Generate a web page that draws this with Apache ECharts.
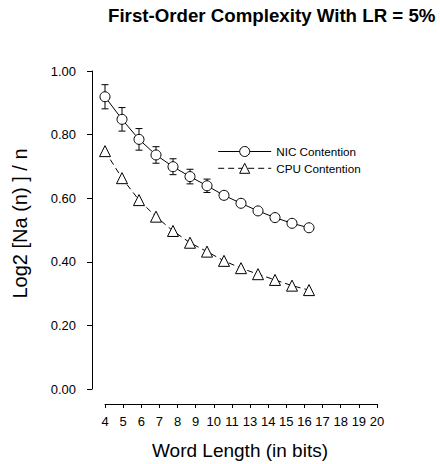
<!DOCTYPE html>
<html><head><meta charset="utf-8">
<script src="https://cdn.jsdelivr.net/npm/echarts@6/dist/echarts.min.js"></script>
<style>html,body{margin:0;padding:0;background:#fff}#c{width:440px;height:464px}</style>
</head><body><div id="c"></div>
<script>
const wordLengths = [4, 5, 6, 7, 8, 9, 10, 11, 12, 13, 14, 15, 16];
const xTickLabels = ['4','5','6','7','8','9','10','11','13','14','15','16','17','18','19','20'];
const nicValues = [0.919, 0.848, 0.785, 0.736, 0.699, 0.668, 0.639, 0.609, 0.584, 0.560, 0.539, 0.521, 0.507];
const nicErrors = [0.038, 0.037, 0.034, 0.026, 0.025, 0.023, 0.021, 0.012, 0.010, 0.010, 0.008, 0.008, 0.008];
const cpuValues = [0.748, 0.663, 0.594, 0.542, 0.497, 0.460, 0.432, 0.403, 0.380, 0.361, 0.343, 0.325, 0.311];
const yMin = 0, yMax = 1, yStep = 0.2;
const xMin = 4, xMax = 20;

const FONT = 'Liberation Sans, Arial, Helvetica, sans-serif';
const chart = echarts.init(document.getElementById('c'), null, {renderer: 'svg'});

const nicData = wordLengths.map((x, i) => [x, nicValues[i]]);
const cpuData = wordLengths.map((x, i) => [x, cpuValues[i]]);
const errData = wordLengths.map((x, i) => [x, nicValues[i] - nicErrors[i], nicValues[i] + nicErrors[i]]);

chart.setOption({
  animation: false,
  backgroundColor: '#fff',
  title: {
    text: 'First-Order Complexity With LR = 5%',
    left: 108, top: 5.5, padding: 0,
    textStyle: {fontFamily: FONT, fontSize: 18.7, fontWeight: 'bold', color: '#000'}
  },
  grid: {left: 105, right: 63, top: 71, bottom: 75, containLabel: false},
  legend: {
    orient: 'vertical', left: 217.7, top: 145.5, padding: 0,
    itemWidth: 53, itemHeight: 12.5, itemGap: 4.8,
    itemStyle: {color: '#fff', borderColor: '#000', borderWidth: 1},
    lineStyle: {color: '#000', width: 1},
    textStyle: {fontFamily: FONT, fontSize: 11.7, color: '#000'},
    data: ['NIC Contention', 'CPU Contention']
  },
  xAxis: [
    {
      type: 'category', data: xTickLabels, boundaryGap: false, offset: 15,
      axisLine: {onZero: false, lineStyle: {color: '#000', width: 1}},
      axisTick: {show: true, interval: 0, length: 4, lineStyle: {color: '#000', width: 1}},
      axisLabel: {interval: 0, color: '#000', fontFamily: FONT, fontSize: 13, margin: 11},
      splitLine: {show: false}
    },
    {type: 'value', min: xMin, max: xMax, show: false}
  ],
  yAxis: {
    type: 'value', min: yMin, max: yMax, interval: yStep, offset: 13,
    axisLine: {show: true, onZero: false, lineStyle: {color: '#000', width: 1}},
    axisTick: {show: true, length: 5, lineStyle: {color: '#000', width: 1}},
    axisLabel: {color: '#000', fontFamily: FONT, fontSize: 13, margin: 16, formatter: v => v.toFixed(2)},
    splitLine: {show: false}
  },
  graphic: [
    {type: 'text', x: 240, y: 450, silent: true,
     style: {text: 'Word Length (in bits)', fontFamily: FONT, fontSize: 19, fill: '#000', align: 'center', verticalAlign: 'middle'}},
    {type: 'text', x: 20, y: 223.5, rotation: Math.PI / 2, silent: true,
     style: {text: 'Log2 [Na (n) ] / n', fontFamily: FONT, fontSize: 20, fill: '#000', align: 'center', verticalAlign: 'middle'}}
  ],
  series: [
    {
      type: 'custom', name: 'errors', xAxisIndex: 1, z: 1, silent: true,
      data: errData,
      encode: {x: 0, y: [1, 2]},
      renderItem: function (params, api) {
        const x = api.value(0);
        const lo = api.coord([x, api.value(1)]);
        const hi = api.coord([x, api.value(2)]);
        const cw = 3.5;
        const st = {stroke: '#000', lineWidth: 1, fill: null};
        return {type: 'group', children: [
          {type: 'line', shape: {x1: lo[0], y1: lo[1], x2: hi[0], y2: hi[1]}, style: st},
          {type: 'line', shape: {x1: lo[0] - cw, y1: lo[1], x2: lo[0] + cw, y2: lo[1]}, style: st},
          {type: 'line', shape: {x1: hi[0] - cw, y1: hi[1], x2: hi[0] + cw, y2: hi[1]}, style: st}
        ]};
      }
    },
    {
      type: 'line', name: 'NIC Contention', xAxisIndex: 1, z: 3, data: nicData,
      symbol: 'circle', symbolSize: 10,
      itemStyle: {color: '#fff', borderColor: '#000', borderWidth: 1},
      lineStyle: {color: '#000', width: 1, type: 'solid'}
    },
    {
      type: 'line', name: 'CPU Contention', xAxisIndex: 1, z: 3, data: cpuData,
      symbol: 'triangle', symbolSize: 11,
      itemStyle: {color: '#fff', borderColor: '#000', borderWidth: 1},
      lineStyle: {color: '#000', width: 1, type: [6, 4]}
    }
  ]
});
</script>
</body></html>
